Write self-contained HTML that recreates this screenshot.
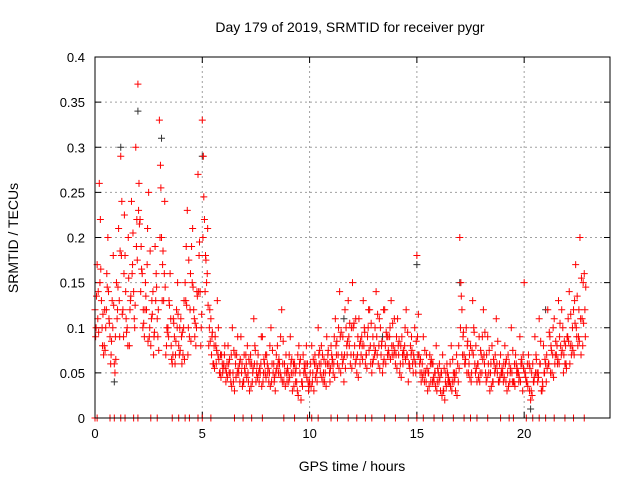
<!DOCTYPE html>
<html><head><meta charset="utf-8"><style>
body{margin:0;background:#fff;}
svg{display:block;font-family:"Liberation Sans",sans-serif;}
</style></head><body>
<svg id="chart" width="640" height="480">
<rect width="640" height="480" fill="#fff"/>
<text x="350" y="32" font-size="14" text-anchor="middle">Day 179 of 2019, SRMTID for receiver pygr</text>
<text x="352" y="471" font-size="14" text-anchor="middle">GPS time / hours</text>
<text transform="translate(18,238) rotate(-90)" font-size="14" text-anchor="middle">SRMTID / TECUs</text>
<g id="grid"></g>
<g id="axes"></g>
<g id="marks"></g>
<rect x="95" y="57" width="515" height="361" fill="none" stroke="#000"/>
</svg>
<script>
const xTicks=[0,5,10,15,20];
const yTicks=[0,0.05,0.1,0.15,0.2,0.25,0.3,0.35,0.4];
const yTickLabels=["0","0.05","0.1","0.15","0.2","0.25","0.3","0.35","0.4"];
const hours=[0,0.1,0.2,0.3,0.4,0.5,0.6,0.7,0.8,0.9,1,1.1,1.2,1.3,1.4,1.5,1.6,1.7,1.8,1.9,2,2.1,2.2,2.3,2.4,2.5,2.6,2.7,2.8,2.9,3,3.1,3.2,3.3,3.4,3.5,3.6,3.7,3.8,3.9,4,4.1,4.2,4.3,4.4,4.5,4.6,4.7,4.8,4.9,5,5.1,5.2,5.3,5.4,5.5,5.6,5.7,5.8,5.9,6,6.1,6.2,6.3,6.4,6.5,6.6,6.7,6.8,6.9,7,7.1,7.2,7.3,7.4,7.5,7.6,7.7,7.8,7.9,8,8.1,8.2,8.3,8.4,8.5,8.6,8.7,8.8,8.9,9,9.1,9.2,9.3,9.4,9.5,9.6,9.7,9.8,9.9,10,10.1,10.2,10.3,10.4,10.5,10.6,10.7,10.8,10.9,11,11.1,11.2,11.3,11.4,11.5,11.6,11.7,11.8,11.9,12,12.1,12.2,12.3,12.4,12.5,12.6,12.7,12.8,12.9,13,13.1,13.2,13.3,13.4,13.5,13.6,13.7,13.8,13.9,14,14.1,14.2,14.3,14.4,14.5,14.6,14.7,14.8,14.9,15,15.1,15.2,15.3,15.4,15.5,15.6,15.7,15.8,15.9,16,16.1,16.2,16.3,16.4,16.5,16.6,16.7,16.8,16.9,17,17.1,17.2,17.3,17.4,17.5,17.6,17.7,17.8,17.9,18,18.1,18.2,18.3,18.4,18.5,18.6,18.7,18.8,18.9,19,19.1,19.2,19.3,19.4,19.5,19.6,19.7,19.8,19.9,20,20.1,20.2,20.3,20.4,20.5,20.6,20.7,20.8,20.9,21,21.1,21.2,21.3,21.4,21.5,21.6,21.7,21.8,21.9,22,22.1,22.2,22.3,22.4,22.5,22.6,22.7,22.8];
const valuesA=[.12,.17,.26,.13,.07,.10,.20,.09,.13,.06,.15,.21,.29,.12,.18,.10,.08,.24,.14,.30,.37,.22,.16,.09,.12,.25,.08,.14,.19,.11,.33,.20,.13,.07,.10,.16,.06,.09,.12,.08,.11,.07,.15,.23,.09,.19,.12,.08,.27,.14,.33,.22,.15,.08,.11,.06,.09,.13,.05,.07,.06,.04,.08,.05,.10,.03,.07,.05,.09,.04,.05,.08,.03,.06,.11,.04,.07,.05,.09,.06,.07,.04,.10,.05,.03,.08,.06,.12,.04,.07,.05,.09,.03,.06,.04,.08,.02,.07,.05,.06,.04,.08,.03,.06,.10,.05,.07,.04,.09,.06,.08,.05,.11,.06,.14,.07,.04,.10,.13,.06,.15,.08,.05,.11,.07,.13,.06,.09,.12,.05,.08,.14,.06,.10,.05,.12,.09,.07,.13,.08,.06,.11,.05,.09,.07,.12,.04,.08,.06,.10,.18,.07,.04,.09,.05,.03,.07,.06,.04,.08,.05,.03,.07,.02,.06,.04,.08,.05,.03,.06,.20,.12,.07,.10,.05,.08,.13,.06,.04,.09,.07,.12,.05,.09,.03,.08,.06,.11,.04,.07,.05,.08,.03,.06,.10,.04,.07,.05,.09,.06,.15,.04,.07,.02,.06,.09,.05,.11,.03,.08,.06,.12,.09,.05,.11,.07,.13,.08,.10,.06,.09,.14,.07,.12,.17,.08,.20,.11,.16];
const valuesB=[.10,.14,.22,.08,.12,.16,.11,.07,.18,.09,.12,.09,.24,.16,.11,.20,.13,.17,.10,.22,.26,.19,.12,.15,.21,.10,.13,.09,.16,.12,.28,.17,.24,.10,.13,.08,.11,.07,.15,.10,.06,.13,.19,.10,.16,.21,.09,.14,.18,.10,.29,.18,.21,.12,.09,.08,.06,.10,.07,.05,.08,.06,.05,.07,.04,.06,.09,.04,.06,.07,.06,.04,.07,.05,.08,.06,.04,.09,.05,.07,.05,.08,.06,.04,.07,.05,.09,.06,.05,.04,.07,.05,.06,.04,.07,.05,.04,.06,.08,.03,.06,.05,.07,.04,.06,.08,.05,.06,.07,.04,.06,.09,.07,.10,.05,.09,.12,.07,.08,.10,.07,.11,.09,.06,.08,.10,.07,.12,.06,.09,.10,.07,.11,.08,.12,.06,.09,.10,.07,.11,.09,.07,.08,.06,.10,.07,.06,.09,.07,.05,.07,.05,.06,.04,.07,.05,.04,.06,.05,.04,.06,.05,.03,.05,.04,.06,.04,.05,.07,.08,.15,.09,.06,.08,.07,.05,.10,.08,.06,.05,.09,.06,.07,.05,.06,.04,.07,.05,.06,.05,.06,.04,.07,.05,.04,.06,.05,.04,.06,.07,.05,.06,.03,.05,.04,.07,.05,.06,.04,.05,.07,.06,.08,.10,.07,.06,.09,.12,.07,.06,.11,.08,.10,.13,.09,.12,.07,.15,.09,.18];
const valuesC=[.09,.11,.15,.10,.08,.12,.14,.06,.10,.05,.11,.13,.18,.09,.14,.08,.12,.16,.11,.19,.23,.14,.10,.12,.17,.09,.11,.07,.13,.09,.20,.13,.16,.08,.09,.11,.07,.06,.10,.07,.09,.10,.13,.07,.12,.15,.11,.10,.14,.08,.20,.14,.16,.10,.07,.06,.08,.07,.05,.06,.07,.05,.06,.04,.05,.07,.05,.06,.05,.04,.07,.05,.06,.04,.06,.05,.05,.06,.04,.05,.06,.05,.04,.06,.05,.06,.05,.04,.06,.05,.04,.06,.05,.05,.03,.06,.04,.05,.06,.04,.05,.04,.06,.05,.07,.06,.04,.05,.06,.05,.07,.06,.08,.07,.09,.06,.07,.08,.09,.07,.10,.06,.07,.08,.09,.08,.07,.10,.08,.06,.07,.09,.08,.07,.06,.08,.07,.09,.08,.07,.07,.08,.06,.07,.08,.07,.06,.07,.05,.06,.09,.06,.05,.05,.04,.05,.06,.04,.05,.03,.04,.05,.03,.04,.05,.04,.03,.04,.05,.04,.10,.07,.06,.05,.06,.04,.07,.05,.06,.04,.05,.07,.04,.06,.05,.04,.05,.06,.04,.05,.04,.06,.05,.04,.05,.04,.06,.05,.04,.03,.05,.04,.06,.03,.04,.05,.04,.06,.03,.05,.04,.06,.05,.07,.06,.08,.06,.07,.05,.08,.09,.06,.08,.07,.10,.09,.11,.08,.12,.09,.14];
const valuesD=[.135,.095,.165,.115,.075,.145,.105,.085,.125,.065,.145,.185,.115,.225,.095,.155,.135,.205,.125,.175,.215,.165,.105,.135,.085,.185,.115,.095,.145,.075,.255,.185,.145,.095,.125,.065,.105,.085,.115,.075,.095,.065,.125,.175,.085,.145,.105,.135,.195,.115,.245,.175,.125,.085,.095,.055,.075,.065,.045,.055,.055,.045,.065,.035,.075,.045,.055,.065,.035,.055,.045,.065,.035,.055,.075,.045,.055,.035,.065,.045,.055,.035,.075,.045,.055,.065,.045,.085,.035,.055,.045,.065,.035,.055,.025,.065,.035,.055,.045,.035,.035,.065,.045,.055,.075,.045,.065,.035,.075,.055,.065,.045,.085,.055,.095,.065,.055,.085,.105,.055,.105,.065,.045,.085,.065,.095,.055,.075,.105,.065,.075,.115,.055,.085,.065,.095,.075,.065,.105,.075,.055,.085,.045,.075,.065,.095,.055,.075,.065,.085,.115,.065,.045,.075,.055,.035,.065,.045,.035,.055,.045,.025,.055,.035,.045,.035,.065,.045,.025,.055,.135,.095,.065,.085,.045,.075,.095,.055,.045,.075,.065,.095,.045,.075,.035,.065,.055,.085,.045,.055,.045,.065,.035,.055,.075,.035,.055,.045,.065,.055,.045,.035,.055,.025,.045,.065,.045,.085,.035,.065,.055,.095,.075,.045,.085,.065,.105,.075,.085,.055,.085,.115,.075,.105,.135,.085,.155,.105,.145];
const zeroHours=[0,0.1,0.7,0.9,1.2,1.4,1.8,2.0,2.6,2.9,3.6,3.9,4.2,4.4,4.8,5.0,5.4,6.5,6.9,7.3,7.8,8.8,9.3,9.9,10.1,10.4,11.0,11.3,11.8,12.2,12.6,12.9,13.5,14.0,14.6,15.0,15.3,15.8,16.2,16.7,17.2,17.5,17.8,18.3,18.9,19.3,19.5,20.1,20.4,20.7,21.0,21.4,21.9,22.3,22.8];
const grayHours=[0.9,1.2,2.0,3.1,5.0,11.6,13.4,15.0,17.0,20.3,21.0];
const grayValues=[.04,.30,.34,.31,.29,.11,.09,.17,.15,.01,.12];

const NS="http://www.w3.org/2000/svg";
const X0=95,X1=610,Y0=418,Y1=57,XMAX=24,YMAX=0.4;
const sx=h=>X0+h/XMAX*(X1-X0);
const sy=v=>Y0-v/YMAX*(Y0-Y1);
const grid=document.getElementById('grid'),axes=document.getElementById('axes'),marks=document.getElementById('marks');
function mk(tag,attrs,parent){const e=document.createElementNS(NS,tag);for(const k in attrs)e.setAttribute(k,attrs[k]);parent.appendChild(e);return e;}
xTicks.forEach(t=>{
  const x=sx(t);
  if(t>0){const g=mk('line',{x1:x,x2:x,y1:Y0,y2:Y1,stroke:'#a0a0a0','stroke-dasharray':'2,3'},grid);
  
  }
  mk('line',{x1:x,x2:x,y1:Y0,y2:Y0-6,stroke:'#000'},axes);
  mk('line',{x1:x,x2:x,y1:Y1,y2:Y1+6,stroke:'#000'},axes);
  const tx=mk('text',{x:x,y:Y0+20,'font-size':13,'text-anchor':'middle'},axes);
  tx.textContent=t;
  
  
});
yTicks.forEach((t,i)=>{
  const y=sy(t);
  if(i>0&&i<yTicks.length-1){const g=mk('line',{x1:X0,x2:X1,y1:y,y2:y,stroke:'#a0a0a0','stroke-dasharray':'2,3'},grid);
  
  }
  mk('line',{x1:X0,x2:X0+6,y1:y,y2:y,stroke:'#000'},axes);
  mk('line',{x1:X1,x2:X1-6,y1:y,y2:y,stroke:'#000'},axes);
  const tx=mk('text',{x:X0-10,y:y+5,'font-size':13,'text-anchor':'end'},axes);
  tx.textContent=yTickLabels[i];
  
  
});
function plus(h,v,color){
  const x=sx(h),y=sy(v);
  const p=mk('path',{d:`M${x-3.5},${y}H${x+3.5}M${x},${y-3.5}V${y+3.5}`,stroke:color,'stroke-width':1,fill:'none'},marks);
  
  
}
grayHours.forEach((h,i)=>plus(h,grayValues[i],'#333'));
hours.forEach((h,i)=>{plus(h,valuesA[i],'#f00');plus(h+0.05,valuesB[i],'#f00');plus(h+0.03,valuesC[i],'#f00');plus(h+0.07,valuesD[i],'#f00');});
zeroHours.forEach(h=>plus(h,0,'#f00'));
</script>
</body></html>
